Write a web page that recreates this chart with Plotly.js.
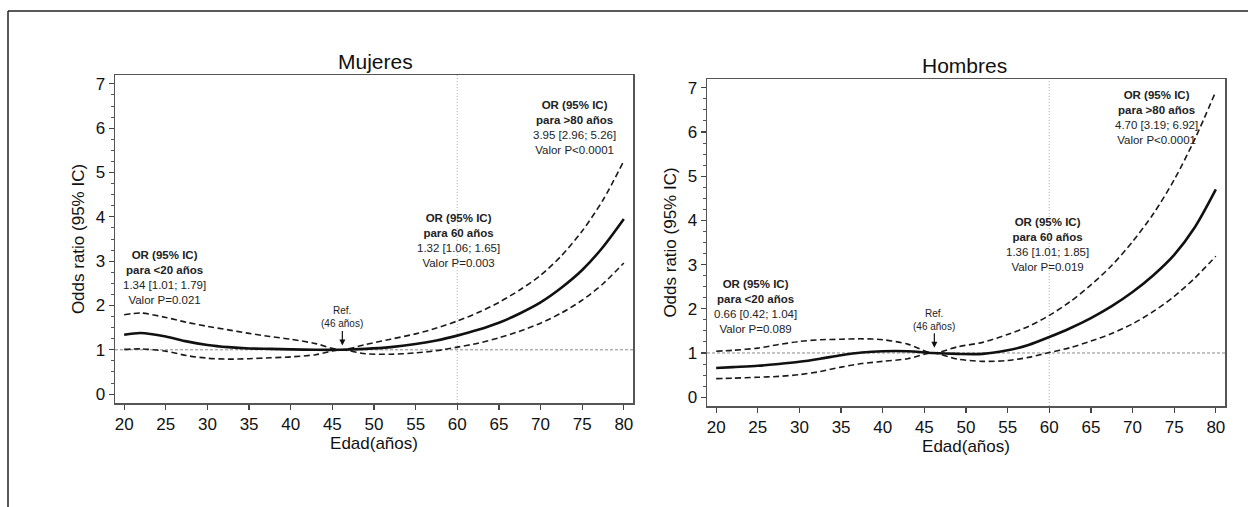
<!DOCTYPE html>
<html>
<head>
<meta charset="utf-8">
<script src="https://cdn.plot.ly/plotly-3.0.1.min.js"></script>
<style>
  html, body { margin: 0; padding: 0; background: #fff; }
  #chart { width: 1248px; height: 507px; }
</style>
</head>
<body>
<div id="chart"></div>
<script>
// ---- Data ----
const ages = [20, 22, 25, 27.5, 30, 32.5, 35, 37.5, 40, 43, 46, 49, 52, 55, 57.5, 60, 62.5, 65, 67.5, 70, 72.5, 75, 77.5, 80];

const mujeresOR    = [1.34, 1.38, 1.30, 1.19, 1.11, 1.06, 1.03, 1.02, 1.01, 1.00, 1.00, 1.02, 1.06, 1.13, 1.21, 1.32, 1.45, 1.61, 1.82, 2.07, 2.40, 2.80, 3.32, 3.95];
const mujeresUpper = [1.79, 1.83, 1.73, 1.62, 1.53, 1.45, 1.37, 1.30, 1.24, 1.14, 1.00, 1.12, 1.24, 1.36, 1.49, 1.65, 1.84, 2.07, 2.35, 2.68, 3.12, 3.68, 4.38, 5.26];
const mujeresLower = [1.01, 1.02, 0.97, 0.87, 0.81, 0.79, 0.80, 0.82, 0.84, 0.89, 1.00, 0.91, 0.90, 0.93, 0.98, 1.06, 1.15, 1.27, 1.42, 1.60, 1.83, 2.12, 2.49, 2.96];

const hombresOR    = [0.66, 0.68, 0.71, 0.75, 0.80, 0.87, 0.95, 1.01, 1.04, 1.04, 1.00, 0.98, 0.98, 1.06, 1.18, 1.36, 1.56, 1.79, 2.06, 2.38, 2.76, 3.22, 3.85, 4.70];
const hombresUpper = [1.04, 1.06, 1.11, 1.19, 1.26, 1.30, 1.31, 1.32, 1.30, 1.20, 1.00, 1.14, 1.24, 1.42, 1.60, 1.85, 2.16, 2.54, 2.98, 3.52, 4.15, 4.92, 5.85, 6.92];
const hombresLower = [0.42, 0.43, 0.45, 0.47, 0.51, 0.58, 0.68, 0.76, 0.81, 0.87, 1.00, 0.86, 0.81, 0.83, 0.90, 1.01, 1.12, 1.27, 1.44, 1.66, 1.94, 2.28, 2.70, 3.19];

const xTicks = [20, 25, 30, 35, 40, 45, 50, 55, 60, 65, 70, 75, 80];
const yTicks = [0, 1, 2, 3, 4, 5, 6, 7];

const panelTitles = ["Mujeres", "Hombres"];
const xTitle = "Edad(años)";
const yTitle = "Odds ratio (95% IC)";
const refAge = 46;
const refText = "Ref.<br>(46 años)";
const cutAge = 60;

const mujeresNotes = [
  "<b>OR (95% IC)</b><br><b>para &lt;20 años</b><br>1.34 [1.01; 1.79]<br>Valor P=0.021",
  "<b>OR (95% IC)</b><br><b>para 60 años</b><br>1.32 [1.06; 1.65]<br>Valor P=0.003",
  "<b>OR (95% IC)</b><br><b>para &gt;80 años</b><br>3.95 [2.96; 5.26]<br>Valor P&lt;0.0001"
];
const hombresNotes = [
  "<b>OR (95% IC)</b><br><b>para &lt;20 años</b><br>0.66 [0.42; 1.04]<br>Valor P=0.089",
  "<b>OR (95% IC)</b><br><b>para 60 años</b><br>1.36 [1.01; 1.85]<br>Valor P=0.019",
  "<b>OR (95% IC)</b><br><b>para &gt;80 años</b><br>4.70 [3.19; 6.92]<br>Valor P&lt;0.0001"
];

// ---- Build figure ----
const FONT = "Liberation Sans, Arial, Helvetica, sans-serif";
const W = 1248, H = 507;

function band(y, xa, ya, dashed) {
  return {
    x: ages, y: y, xaxis: xa, yaxis: ya, type: 'scatter', mode: 'lines',
    line: dashed ? {color: '#1a1a1a', width: 1.6, dash: '6px,3.5px', shape: 'spline', smoothing: 0.8}
                 : {color: '#111', width: 2.6, shape: 'spline', smoothing: 0.8},
    hoverinfo: 'skip', showlegend: false
  };
}

const data = [
  band(mujeresUpper, 'x', 'y', true),
  band(mujeresLower, 'x', 'y', true),
  band(mujeresOR, 'x', 'y', false),
  band(hombresUpper, 'x2', 'y2', true),
  band(hombresLower, 'x2', 'y2', true),
  band(hombresOR, 'x2', 'y2', false)
];

function xAxis(domain, anchor) {
  return {
    domain: domain, anchor: anchor, range: [18.9, 81.1],
    tickvals: xTicks, ticks: 'outside', ticklen: 5, tickwidth: 1.2, tickcolor: '#444',
    showline: true, mirror: true, linecolor: '#555', linewidth: 1.5,
    showgrid: false, zeroline: false,
    tickfont: {family: FONT, size: 17, color: '#111'},
    title: {text: xTitle, font: {family: FONT, size: 17, color: '#111'}, standoff: 0}
  };
}
function yAxis(domain, anchor) {
  return {
    domain: domain, anchor: anchor, range: [-0.2, 7.2],
    tickvals: yTicks, ticks: 'outside', ticklen: 5, tickwidth: 1.2, tickcolor: '#444',
    minor: {dtick: 0.25, tick0: 0, ticks: 'outside', ticklen: 3, tickwidth: 1, tickcolor: '#555', showgrid: false},
    showline: true, mirror: true, linecolor: '#555', linewidth: 1.5,
    showgrid: false, zeroline: false,
    tickfont: {family: FONT, size: 17, color: '#111'},
    title: {text: yTitle, font: {family: FONT, size: 17, color: '#111'}, standoff: 6}
  };
}

function refLines(xr, yr) {
  return [
    {type: 'line', xref: xr + ' domain', yref: yr, x0: 0, x1: 1, y0: 1, y1: 1,
     line: {color: '#8a8a8a', width: 1, dash: '3px,2px'}, layer: 'below'},
    {type: 'line', xref: xr, yref: yr + ' domain', x0: cutAge, x1: cutAge, y0: 0, y1: 1,
     line: {color: '#b0b0b0', width: 1, dash: '1px,2px'}, layer: 'below'}
  ];
}

const noteFont = {family: FONT, size: 11.5, color: '#222'};
function notes(texts, xr, yr, pos) {
  return texts.map((t, i) => ({
    text: t, xref: xr, yref: yr, x: pos[i][0], y: pos[i][1],
    showarrow: false, xanchor: 'center', yanchor: 'middle', align: 'center', font: noteFont
  }));
}
function refNote(xr, yr, tipY) {
  return {
    text: refText, xref: xr, yref: yr, x: refAge + 0.2, y: tipY,
    showarrow: true, ax: 0, ay: -28, arrowhead: 2, arrowsize: 1, arrowwidth: 1.2,
    arrowcolor: '#111', standoff: 0, startstandoff: 0,
    font: {family: FONT, size: 10, color: '#222'}, align: 'center'
  };
}

const layout = {
  width: W, height: H,
  margin: {l: 0, r: 0, t: 0, b: 0, pad: 0},
  paper_bgcolor: '#fff', plot_bgcolor: '#fff',
  showlegend: false,
  font: {family: FONT, color: '#111'},
  xaxis: xAxis([115 / W, 633 / W], 'y'),
  yaxis: yAxis([1 - 403 / H, 1 - 75 / H], 'x'),
  xaxis2: xAxis([707 / W, 1225 / W], 'y2'),
  yaxis2: yAxis([1 - 406 / H, 1 - 79 / H], 'x2'),
  shapes: [
    {type: 'line', xref: 'paper', yref: 'paper', x0: 8 / W, x1: 1, y0: 1 - 11 / H, y1: 1 - 11 / H,
     line: {color: '#222', width: 1.5}},
    {type: 'line', xref: 'paper', yref: 'paper', x0: 8 / W, x1: 8 / W, y0: 0, y1: 1 - 11 / H,
     line: {color: '#222', width: 1.5}}
  ].concat(refLines('x', 'y'), refLines('x2', 'y2')),
  annotations: [
    {text: panelTitles[0], xref: 'paper', yref: 'paper', x: 375 / W, y: 1 - 62 / H,
     showarrow: false, xanchor: 'center', yanchor: 'middle', font: {family: FONT, size: 21, color: '#111'}},
    {text: panelTitles[1], xref: 'paper', yref: 'paper', x: 964 / W, y: 1 - 65 / H,
     showarrow: false, xanchor: 'center', yanchor: 'middle', font: {family: FONT, size: 21, color: '#111'}},
    refNote('x', 'y', 1.1),
    refNote('x2', 'y2', 1.12)
  ].concat(
    notes(mujeresNotes, 'x', 'y', [[24.9, 2.63], [60.1, 3.47], [74.1, 6.02]]),
    notes(hombresNotes, 'x2', 'y2', [[24.7, 2.05], [59.8, 3.45], [72.9, 6.33]])
  )
};

Plotly.newPlot('chart', data, layout, {staticPlot: true, displayModeBar: false});
</script>
</body>
</html>
